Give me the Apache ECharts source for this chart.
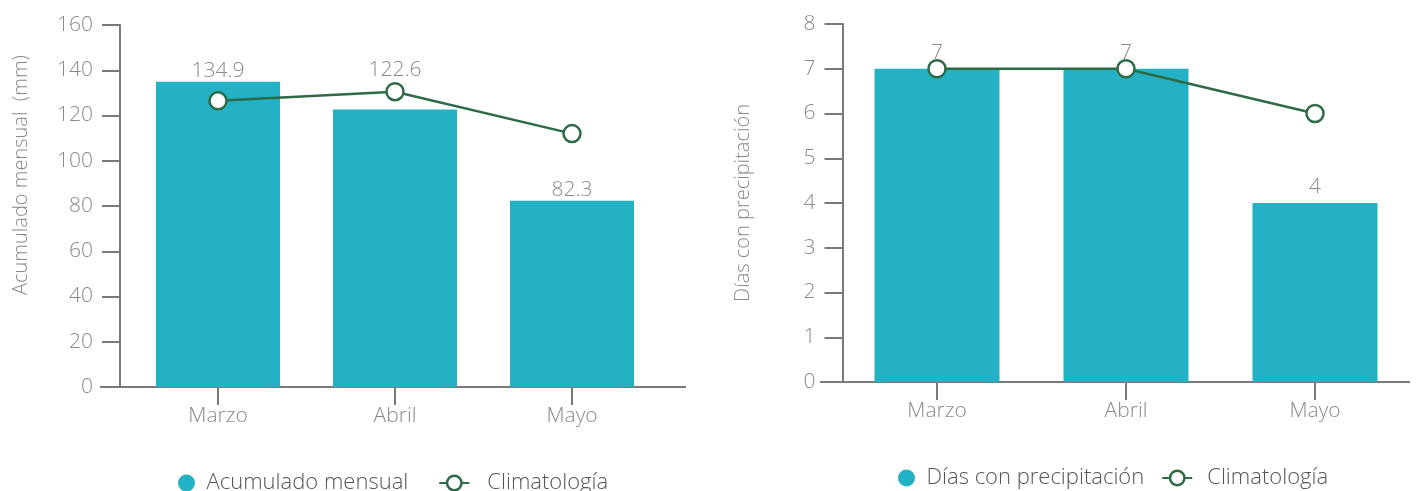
<!DOCTYPE html>
<html>
<head>
<meta charset="utf-8">
<script src="https://cdn.jsdelivr.net/npm/echarts@6/dist/echarts.min.js"></script>
<style>
  html, body { margin: 0; padding: 0; background: #ffffff; }
  #chart { width: 1418px; height: 491px; }
</style>
</head>
<body>
<div id="chart"></div>
<script>
// Monthly categories shared by both panels
const months = ['Marzo', 'Abril', 'Mayo'];

// Left panel: monthly accumulated rainfall (mm) and its climatology
const acumuladoMensual = [134.9, 122.6, 82.3];
const climatologiaAcumulado = [126.5, 130.5, 112];

// Right panel: days with precipitation and its climatology
const diasPrecipitacion = [7, 7, 4];
const climatologiaDias = [7, 7, 6];

// Axis ranges
const axisAcumulado = { min: 0, max: 160, interval: 20 };
const axisDias = { min: 0, max: 8, interval: 1 };

const FONT = 'Open Sans';
const BAR = '#23b1c6';
const LINE = '#2f6a47';
const GREY = '#8a8a8a';
const AXIS = '#7a7a7a';

// Plot boxes
const g1 = { left: 129.5, top: 25, width: 531, height: 362 };
const g2 = { left: 842.5, top: 24, width: 567, height: 358 };

// Extra lift for a bar label that would sit under a climatology marker
const labelLift = { Abril: 29 };

// Legend glyph for the climatology line: short stubs either side of a ring
const ringIcon = 'path://M0,7.5 L6.6,7.5 L6.6,9.5 L0,9.5 Z M23.4,7.5 L30,7.5 L30,9.5 L23.4,9.5 Z ' +
  'M6.5,8.5 A8.5,8.5 0 1,0 23.5,8.5 A8.5,8.5 0 1,0 6.5,8.5 Z ' +
  'M9,8.5 A6,6 0 1,1 21,8.5 A6,6 0 1,1 9,8.5 Z';

const textBase = { fontFamily: FONT, fontWeight: 300, color: GREY, fontSize: 21 };

function yAxis(gridIndex, range, name, offset, padLeft) {
  return {
    type: 'value', gridIndex, min: range.min, max: range.max, interval: range.interval,
    offset,
    name, nameLocation: 'middle', nameGap: 89, nameRotate: 90,
    nameTextStyle: Object.assign({}, textBase, { fontSize: 20, padding: [0, 0, 0, padLeft] }),
    axisLine: { show: true, lineStyle: { color: AXIS, width: 2 } },
    axisTick: { show: true, length: 18, lineStyle: { color: AXIS, width: 2 } },
    axisLabel: Object.assign({}, textBase, { margin: 27 }),
    splitLine: { show: false }
  };
}

function xAxis(gridIndex) {
  return {
    type: 'category', gridIndex, data: months,
    axisLine: { show: false },
    axisTick: { show: true, alignWithLabel: true, length: 18, lineStyle: { color: AXIS, width: 2 } },
    axisLabel: Object.assign({}, textBase, { margin: 19 })
  };
}

function lineSeries(name, xi, yi, data) {
  return {
    name, type: 'line', xAxisIndex: xi, yAxisIndex: yi, data,
    symbol: 'circle', symbolSize: 17, z: 5,
    lineStyle: { color: LINE, width: 2.5 },
    itemStyle: { color: '#ffffff', borderColor: LINE, borderWidth: 2.5 },
    label: { show: false }
  };
}

function legendBase(left, top, gap, barName, lineName, linePad) {
  return {
    left, top, itemGap: gap, itemWidth: 30, itemHeight: 17,
    textStyle: { fontFamily: FONT, fontWeight: 300, fontSize: 22, color: '#555555' },
    data: [
      { name: barName, icon: 'circle', itemStyle: { color: BAR } },
      { name: lineName, icon: ringIcon, itemStyle: { color: LINE, borderWidth: 0 },
        textStyle: { padding: [0, 0, 0, linePad] } }
    ]
  };
}

function barData(values, lift) {
  return values.map((v, i) => {
    const extra = lift[months[i]];
    return extra ? { value: v, label: { distance: extra } } : v;
  });
}

const chart = echarts.init(document.getElementById('chart'), null, { renderer: 'canvas' });

chart.setOption({
  animation: false,
  grid: [
    Object.assign({ containLabel: false }, g1),
    Object.assign({ containLabel: false }, g2)
  ],
  xAxis: [xAxis(0), xAxis(1)],
  yAxis: [
    yAxis(0, axisAcumulado, 'Acumulado mensual  (mm)', 9.5, 62),
    yAxis(1, axisDias, 'Días con precipitación', 0, 0)
  ],
  legend: [
    legendBase(173, 467, 31, 'Acumulado mensual', 'Climatología', 13),
    legendBase(893, 462, 18, 'Días con precipitación', 'Climatología ', 10)
  ],
  series: [
    {
      name: 'Acumulado mensual', type: 'bar', xAxisIndex: 0, yAxisIndex: 0,
      data: barData(acumuladoMensual, labelLift), barWidth: 124,
      itemStyle: { color: BAR },
      label: Object.assign({ show: true, position: 'top', distance: 0 }, textBase)
    },
    lineSeries('Climatología', 0, 0, climatologiaAcumulado),
    {
      name: 'Días con precipitación', type: 'bar', xAxisIndex: 1, yAxisIndex: 1,
      data: diasPrecipitacion, barWidth: 125,
      itemStyle: { color: BAR },
      label: Object.assign({ show: true, position: 'top', distance: 5 }, textBase)
    },
    lineSeries('Climatología ', 1, 1, climatologiaDias)
  ],
  // Base lines of both category axes, reaching past the plot edges
  graphic: [
    { type: 'line', silent: true, z: 1,
      shape: { x1: g1.left - 29.5, y1: g1.top + g1.height, x2: g1.left + g1.width + 25.5, y2: g1.top + g1.height },
      style: { stroke: AXIS, lineWidth: 2 } },
    { type: 'line', silent: true, z: 1,
      shape: { x1: g2.left - 22.5, y1: g2.top + g2.height, x2: g2.left + g2.width + 0.5, y2: g2.top + g2.height },
      style: { stroke: AXIS, lineWidth: 2 } }
  ]
});
</script>
</body>
</html>
